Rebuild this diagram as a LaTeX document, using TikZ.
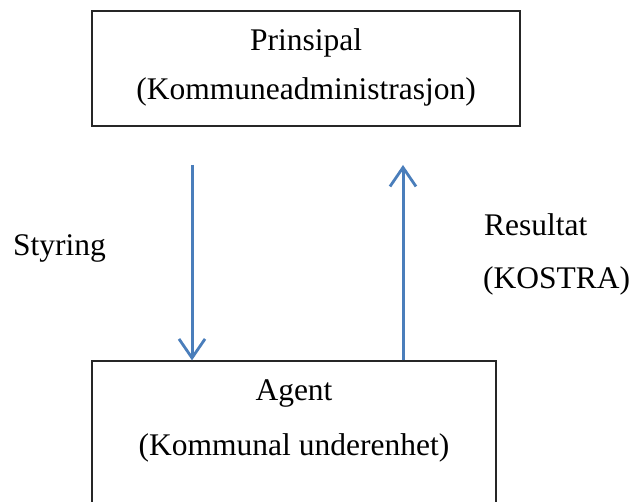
\documentclass[tikz,border=0pt]{standalone}
\usepackage{fontspec}
\setmainfont{Liberation Serif}
\usetikzlibrary{arrows.meta}
\begin{document}
\begin{tikzpicture}[x=1pt,y=-1pt,
  box/.style={draw=black!85, line width=1.2pt, fill=none, inner sep=0pt},
  lbl/.style={inner sep=0pt, font=\fontsize{31.5}{37}\selectfont},
  flow/.style={draw={rgb,255:red,74;green,126;blue,187}, line width=3pt,
    -{Straight Barb[length=19pt,width=26pt,line width=2.8pt]}}]
  \clip (0,0) rectangle (634,502);
  \fill[white] (0,0) rectangle (634,502);

  % principal box
  \node[box, minimum width=428pt, minimum height=115pt] (prin) at (306,68.5) {};
  \node[lbl, anchor=base] (prinA) at (306,51) {Prinsipal};
  \node[lbl, anchor=base] (prinB) at (306,100) {(Kommuneadministrasjon)};

  % agent box, running past the lower edge
  \node[box, minimum width=404pt, minimum height=179pt] (agent) at (294,450.5) {};
  \node[lbl, anchor=base] (agentA) at (294,400) {Agent};
  \node[lbl, anchor=base] (agentB) at (294,455) {(Kommunal underenhet)};

  % side labels
  \node[lbl, anchor=base west] (styr) at (13,256) {Styring};
  \node[lbl, anchor=base west] (resA) at (484,236) {Resultat};
  \node[lbl, anchor=base west] (resB) at (483,289) {(KOSTRA)};

  % control and feedback arrows
  \coordinate (down0) at (192,165);
  \coordinate (up1) at (403,165);
  \draw[flow] (down0) -- (down0 |- agent.north);
  \draw[flow] (up1 |- agent.north) -- (up1);
\end{tikzpicture}
\end{document}
